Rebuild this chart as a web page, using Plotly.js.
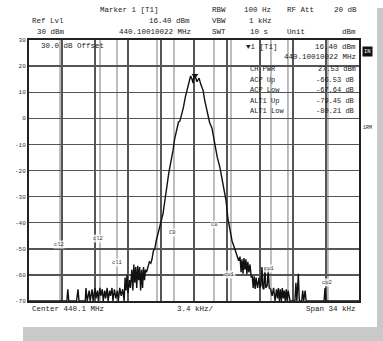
<!DOCTYPE html>
<html>
<head>
<meta charset="utf-8">
<script src="https://cdn.plot.ly/plotly-3.0.1.min.js"></script>
<style>html,body{margin:0;padding:0;background:#fff;}#chart{width:383px;height:341px;}</style>
</head>
<body>
<div id="chart"></div>
<script>
// Frequency offset from 440.1 MHz centre, kHz
const freqKHz = [
-17.0,-13.1,-13.0,-12.9,-12.1,-11.95,-11.85,-11.2,-11.13,-11.0,-10.8,-10.7,-10.5,-10.4,-10.2,-10.1,-9.95,-9.85,-9.7,-9.6,
-9.45,-9.35,-9.2,-9.1,-8.95,-8.85,-8.7,-8.6,-8.45,-8.35,-8.2,-8.05,-7.9,-7.8,-7.65,-7.5,-7.35,-7.2,-7.1,-7.0,
-6.9,-6.8,-6.65,-6.55,-6.4,-6.3,-6.2,-6.1,-6.0,-5.9,-5.8,-5.7,-5.6,-5.5,-5.4,-5.3,-5.2,-5.1,-5.0,-4.9,
-4.74,-4.6,-4.45,-4.33,-4.2,-4.02,-3.9,-3.71,-3.55,-3.4,-3.19,-3.0,-2.9,-2.78,-2.6,-2.47,-2.3,-2.16,-2.0,-1.85,
-1.75,-1.6,-1.45,-1.24,-1.1,-0.9,-0.72,-0.6,-0.45,-0.35,-0.2,-0.1,0.0,0.1,0.3,0.52,0.7,0.93,1.1,1.25,
1.44,1.6,1.85,2.0,2.16,2.4,2.68,2.9,3.09,3.3,3.5,3.7,3.92,4.2,4.43,4.6,4.74,4.85,4.95,5.05,
5.15,5.25,5.35,5.45,5.55,5.65,5.77,5.9,6.0,6.1,6.2,6.3,6.4,6.55,6.7,6.8,6.9,7.0,7.1,7.2,
7.3,7.4,7.55,7.65,7.75,7.9,8.05,8.2,8.35,8.5,8.6,8.7,8.8,8.9,9.0,9.1,9.2,9.3,9.4,9.5,
9.6,9.7,9.9,10.4,10.5,10.6,10.75,10.85,11.1,11.2,11.3,11.45,11.55,13.4,13.5,13.6,17.0
];
// Level, dBm
const levelDb = [
-70,-70,-65.5,-70,-70,-65.5,-70,-70,-65,-70,-66,-70,-65.5,-70,-65,-69,-66,-70,-65,-68,
-65.5,-70,-66,-69,-65,-70,-66,-68,-65,-70,-65.5,-69,-66,-70,-65,-68,-65.5,-70,-61,-66,
-60,-67,-62,-65,-58,-66,-56,-63,-57,-65,-56.5,-62,-57,-66,-58,-65,-57,-62,-58,-59,
-57,-55,-55.5,-54,-51,-49.6,-47,-44,-41,-39,-36.5,-31.5,-28,-25.8,-21,-18.8,-15,-12.3,-8,-5,
-3.5,-1.5,-1,1.9,4,8,10.8,13,15.5,16.2,15,13.5,16.4,16.4,14,15.4,13,10.8,7,4,
0.4,-1.5,-3.8,-7,-11,-15,-19,-23,-26.5,-31.5,-38.5,-43,-47,-50,-52.7,-54.6,-53,-59,-54,-59.5,
-53.5,-58,-54,-59.6,-55,-59,-56,-61,-60.4,-65,-60.5,-65.4,-61,-65,-61,-65,-64,-57,-65,-65.5,
-57,-65,-64,-57.5,-65,-65.5,-68,-65,-70,-65.5,-69,-65,-70,-65.5,-70,-65,-69,-66,-70,-65.5,
-70,-66,-70,-70,-63,-70,-59.6,-70,-70,-66,-70,-66,-70,-70,-65,-70,-70
];
const markerFreq = [0.1];
const markerLevel = [16.4];
const gridX = [-17,-13.6,-10.2,-6.8,-3.4,0,3.4,6.8,10.2,13.6,17];
const channelLines = [-13.8,-9.68,-7.93,-3.81,-2.06,2.06,3.81,7.93,9.68,13.8];
const yTicks = [30,20,10,0,-10,-20,-30,-40,-50,-60,-70];

const L = 29, R = 359, T = 40, B = 301;
const px = x => (x - L) / (R - L);
const py = y => (B - y) / (B - T);
const F = 'Liberation Mono, DejaVu Sans Mono, monospace';
const ann = [];
function txt(t, x, y, anchor, size, extra) {
  ann.push(Object.assign({text: t, x: px(x), y: py(y), xref: 'paper', yref: 'paper',
    xanchor: anchor, yanchor: 'middle', showarrow: false,
    font: {family: F, size: size || 7.5, color: '#222'}}, extra || {}));
}
// header
txt('Marker 1 [T1]', 98, 10, 'left');
txt('RBW', 210, 10, 'left');
txt('100 Hz', 242, 10, 'left');
txt('RF Att', 285, 10, 'left');
txt('20 dB', 332, 10, 'left');
txt('Ref Lvl', 30, 21, 'left');
txt('16.40 dBm', 192, 21, 'right');
txt('VBW', 210, 21, 'left');
txt('1 kHz', 247, 21, 'left');
txt('30 dBm', 35, 32, 'left');
txt('440.10010022 MHz', 193, 32, 'right');
txt('SWT', 210, 32, 'left');
txt('10 s', 248, 32, 'left');
txt('Unit', 285, 32, 'left');
txt('dBm', 358, 32, 'right');
// in-plot
txt('30.0 dB Offset', 39, 46, 'left');
txt('▼1 [T1]', 244, 47, 'left');
txt('16.40 dBm', 358, 47, 'right');
txt('440.10010022 MHz', 358, 57, 'right');
txt('CH PWR', 248, 69, 'left', 7);
txt('27.53 dBm', 358, 69, 'right', 7);
txt('ACP Up', 248, 80, 'left', 7);
txt('-66.53 dB', 356, 80, 'right', 7);
txt('ACP Low', 248, 90, 'left', 7);
txt('-67.64 dB', 356, 90, 'right', 7);
txt('ALT1 Up', 248, 101, 'left', 7);
txt('-79.45 dB', 356, 101, 'right', 7);
txt('ALT1 Low', 248, 111, 'left', 7);
txt('-80.21 dB', 356, 111, 'right', 7);
// bottom
txt('Center 440.1 MHz', 30, 309, 'left');
txt('3.4 kHz/', 195, 309, 'center');
txt('Span 34 kHz', 358, 309, 'right');
// side
txt('IN', 367, 51, 'center', 5.5, {bgcolor: '#111', font: {family: F, size: 5.5, color: '#fff'}, borderpad: 1});
txt('1RM', 367, 128, 'center', 5);
// channel labels (data coords)
function clab(t, x, y) {
  ann.push({text: t, x: x, y: y, xref: 'x', yref: 'y', showarrow: false,
    font: {family: F, size: 5.5, color: '#333'}, bgcolor: 'rgba(255,255,255,0.8)', borderpad: 0});
}
clab('cl2', -13.9, -48.5);
clab('cl2', -9.9, -46.2);
clab('cl1', -7.9, -55.1);
clab('C0', -2.2, -43.6);
clab('C0', 2.1, -40.5);
clab('cu1', 3.7, -60.0);
clab('cu1', 7.8, -57.4);
clab('cu2', 13.7, -63.1);

const shapes = [];
// drop shadow
shapes.push({type: 'rect', xref: 'paper', yref: 'paper', x0: px(377), x1: px(384), y0: py(342), y1: py(8),
  fillcolor: '#c9c9c9', line: {width: 0}, layer: 'below'});
shapes.push({type: 'rect', xref: 'paper', yref: 'paper', x0: px(23), x1: px(384), y0: py(342), y1: py(327),
  fillcolor: '#c9c9c9', line: {width: 0}, layer: 'below'});
channelLines.forEach(c => shapes.push({type: 'line', xref: 'x', yref: 'paper', x0: c, x1: c, y0: 0, y1: 1,
  line: {color: '#9a9a9a', width: 1.3}, layer: 'below'}));

const data = [
  {x: freqKHz, y: levelDb, type: 'scatter', mode: 'lines', line: {color: '#111', width: 1.4}, hoverinfo: 'skip'},
  {x: markerFreq, y: markerLevel, type: 'scatter', mode: 'markers',
   marker: {symbol: 'triangle-down', size: 6, color: '#111'}, hoverinfo: 'skip'}
];
const layout = {
  width: 383, height: 341,
  margin: {l: L, r: 383 - R, t: T, b: 341 - B},
  paper_bgcolor: '#fff', plot_bgcolor: '#fff',
  showlegend: false,
  xaxis: {range: [-17, 17], tickmode: 'array', tickvals: gridX, showticklabels: false, ticks: '',
    showgrid: true, gridcolor: '#555', gridwidth: 1.4, zeroline: false,
    showline: true, mirror: true, linecolor: '#222', linewidth: 2, fixedrange: true},
  yaxis: {range: [-70, 30], tickmode: 'array', tickvals: yTicks, ticks: '',
    ticktext: yTicks.map(v => String(v)),
    tickfont: {family: F, size: 6, color: '#333'},
    showgrid: true, gridcolor: '#555', gridwidth: 1.4, zeroline: false,
    showline: true, mirror: true, linecolor: '#222', linewidth: 2, fixedrange: true},
  annotations: ann,
  shapes: shapes
};
Plotly.newPlot('chart', data, layout, {staticPlot: true, displayModeBar: false});
</script>
</body>
</html>
